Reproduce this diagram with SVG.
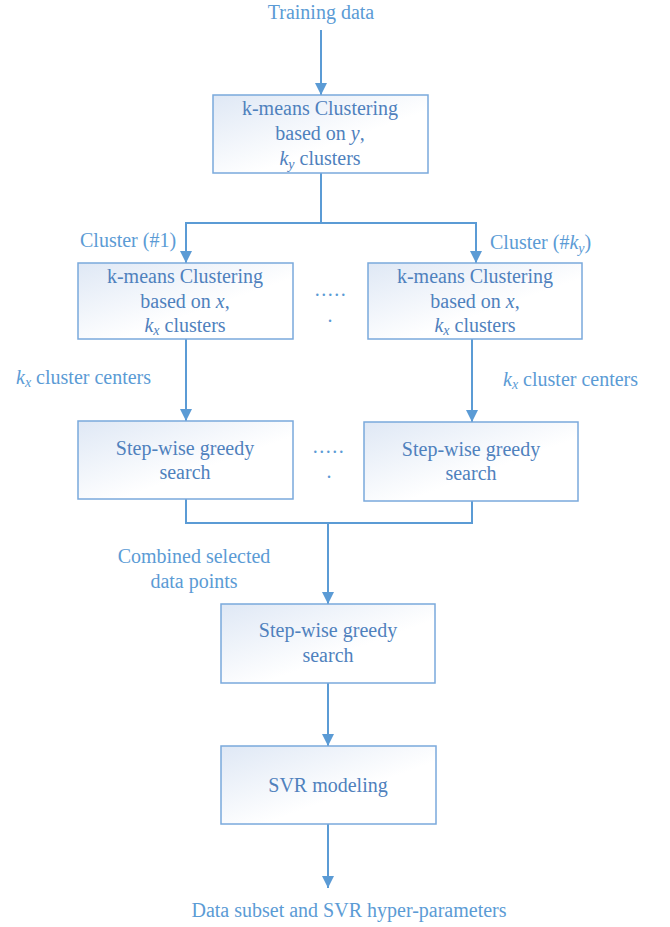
<svg xmlns="http://www.w3.org/2000/svg" width="670" height="927" viewBox="0 0 670 927">
<defs>
<linearGradient id="g" x1="0" y1="0" x2="1" y2="1">
<stop offset="0" stop-color="#dfe8f5"/>
<stop offset="0.6" stop-color="#ffffff"/>
<stop offset="1" stop-color="#ffffff"/>
</linearGradient>
<marker id="arr" markerWidth="12" markerHeight="12" refX="12" refY="6" orient="auto" markerUnits="userSpaceOnUse">
<path d="M0,0 L12,6 L0,12 Z" fill="#5b9bd5"/>
</marker>
<style>
.box{fill:url(#g);stroke:#7aa9dc;stroke-width:1.5}
.bt{font-family:'Liberation Serif','DejaVu Serif','Times New Roman',serif;font-size:20px;fill:#4f81bd;text-anchor:middle}
.lt{font-family:'Liberation Serif','DejaVu Serif','Times New Roman',serif;font-size:20px;fill:#5b9bd5}
.ln{fill:none;stroke:#5b9bd5;stroke-width:2}
.it{font-style:italic}
.sub{font-style:italic;font-size:14px}
</style>
</defs>
<rect width="670" height="927" fill="#ffffff"/>
<g id="connectors">
<line class="ln" x1="321" y1="30" x2="321" y2="95" marker-end="url(#arr)"/>
<polyline class="ln" points="321,173 321,223 186,223 186,263" marker-end="url(#arr)"/>
<polyline class="ln" points="321,223 476,223 476,263" marker-end="url(#arr)"/>
<line class="ln" x1="186" y1="339" x2="186" y2="421" marker-end="url(#arr)"/>
<line class="ln" x1="472" y1="339" x2="472" y2="422" marker-end="url(#arr)"/>
<polyline class="ln" points="186,499 186,523 472,523 472,501"/>
<line class="ln" x1="328" y1="523" x2="328" y2="604" marker-end="url(#arr)"/>
<line class="ln" x1="328" y1="683" x2="328" y2="746" marker-end="url(#arr)"/>
<line class="ln" x1="328" y1="824" x2="328" y2="888" marker-end="url(#arr)"/>
</g>
<g id="training-data"><text class="lt" x="321" y="19" text-anchor="middle">Training data</text></g>
<g id="kmeans-y">
<rect class="box" x="213" y="95" width="215" height="78"/>
<text class="bt" x="320" y="115">k-means Clustering</text>
<text class="bt" x="320" y="140">based on <tspan class="it">y</tspan>,</text>
<text class="bt" x="320" y="165"><tspan class="it">k</tspan><tspan class="sub" dy="4">y</tspan><tspan dy="-4"> clusters</tspan></text>
</g>
<g id="label-cluster1"><text class="lt" x="80" y="247">Cluster (#1)</text></g>
<g id="label-clusterky"><text class="lt" x="490" y="249">Cluster (#<tspan class="it">k</tspan><tspan class="sub" dy="4">y</tspan><tspan dy="-4">)</tspan></text></g>
<g id="kmeans-x-1">
<rect class="box" x="78" y="263" width="215" height="76"/>
<text class="bt" x="185" y="283">k-means Clustering</text>
<text class="bt" x="185" y="308">based on <tspan class="it">x</tspan>,</text>
<text class="bt" x="185" y="332"><tspan class="it">k</tspan><tspan class="sub" dy="3">x</tspan><tspan dy="-3"> clusters</tspan></text>
</g>
<g id="kmeans-x-k">
<rect class="box" x="368" y="263" width="214" height="76"/>
<text class="bt" x="475" y="283">k-means Clustering</text>
<text class="bt" x="475" y="308">based on <tspan class="it">x</tspan>,</text>
<text class="bt" x="475" y="332"><tspan class="it">k</tspan><tspan class="sub" dy="3">x</tspan><tspan dy="-3"> clusters</tspan></text>
</g>
<g id="dots-1">
<text class="lt" x="331" y="296" text-anchor="middle" letter-spacing="1.5">.....</text>
<text class="lt" x="330" y="322" text-anchor="middle">.</text>
</g>
<g id="label-centers-1"><text class="lt" x="16" y="384"><tspan class="it">k</tspan><tspan class="sub" dy="3">x</tspan><tspan dy="-3"> cluster centers</tspan></text></g>
<g id="label-centers-k"><text class="lt" x="503" y="386"><tspan class="it">k</tspan><tspan class="sub" dy="3">x</tspan><tspan dy="-3"> cluster centers</tspan></text></g>
<g id="greedy-1">
<rect class="box" x="78" y="421" width="215" height="78"/>
<text class="bt" x="185" y="455">Step-wise greedy</text>
<text class="bt" x="185" y="479">search</text>
</g>
<g id="greedy-k">
<rect class="box" x="364" y="422" width="214" height="79"/>
<text class="bt" x="471" y="456">Step-wise greedy</text>
<text class="bt" x="471" y="480">search</text>
</g>
<g id="dots-2">
<text class="lt" x="329" y="453" text-anchor="middle" letter-spacing="1.5">.....</text>
<text class="lt" x="329" y="478" text-anchor="middle">.</text>
</g>
<g id="label-combined">
<text class="lt" x="194" y="563" text-anchor="middle">Combined selected</text>
<text class="lt" x="194" y="588" text-anchor="middle">data points</text>
</g>
<g id="greedy-final">
<rect class="box" x="221" y="604" width="214" height="79"/>
<text class="bt" x="328" y="637">Step-wise greedy</text>
<text class="bt" x="328" y="662">search</text>
</g>
<g id="svr">
<rect class="box" x="221" y="746" width="215" height="78"/>
<text class="bt" x="328" y="792">SVR modeling</text>
</g>
<g id="output"><text class="lt" x="349" y="917" text-anchor="middle" font-size="20.5">Data subset and SVR hyper-parameters</text></g>
</svg>
